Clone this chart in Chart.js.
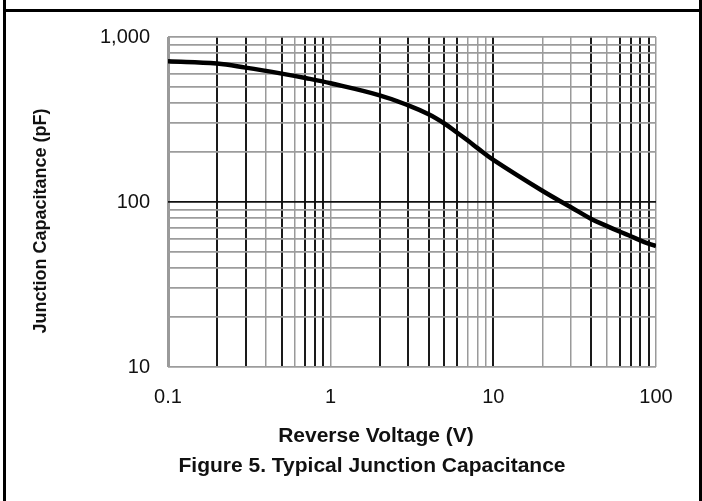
<!DOCTYPE html>
<html>
<head>
<meta charset="utf-8">
<title>Typical Junction Capacitance</title>
<script src="https://cdn.jsdelivr.net/npm/chart.js@4.4.1/dist/chart.umd.min.js"></script>
<style>
  html, body { margin: 0; padding: 0; background: #fff; overflow: hidden; }
  #wrap { position: relative; width: 702px; height: 501px; }
  #capChart { position: absolute; left: 0; top: 0; }
  /* scanned datasheet cell border */
  .frame-sides { position: absolute; left: 3px; top: 0; width: 693px; height: 501px;
                 border-left: 3px solid #000; border-right: 3px solid #000; pointer-events: none; }
  .frame-top   { position: absolute; left: 3px; top: 9px; width: 699px; height: 3px; background: #000; }
</style>
</head>
<body>
<div id="wrap">
  <canvas id="capChart" width="702" height="501"></canvas>
  <div class="frame-sides"></div>
  <div class="frame-top"></div>
</div>
<script>
/* ---------- data ---------- */
const voltage     = [0.1, 0.2, 0.3, 0.5, 0.7, 1, 2, 3, 4, 5, 6, 7, 8, 10, 20, 30, 40, 50, 60, 70, 80, 90, 100];
const capacitance = [712, 690, 652, 600, 564, 524, 443, 385, 340, 299, 263, 235, 212, 180, 117, 93, 79, 71.4, 66, 62, 58.6, 56, 54];

const xGridValues  = [0.1, 0.2, 0.3, 0.4, 0.5, 0.6, 0.7, 0.8, 0.9,
                      1, 2, 3, 4, 5, 6, 7, 8, 9,
                      10, 20, 30, 40, 50, 60, 70, 80, 90, 100];
const yGridValues  = [10, 20, 30, 40, 50, 60, 70, 80, 90,
                      100, 200, 300, 400, 500, 600, 700, 800, 900, 1000];
const xTickValues  = [0.1, 1, 10, 100];
const xTickLabels  = ['0.1', '1', '10', '100'];
const yTickValues  = [10, 100, 1000];
const yTickLabels  = ['10', '100', '1,000'];

const xTitle  = 'Reverse Voltage (V)';
const yTitle  = 'Junction Capacitance (pF)';
const caption = 'Figure 5. Typical Junction Capacitance';

/* ---------- styles ---------- */
// the scan prints some vertical rules dark and some light
const darkXLines = [0.2, 0.3, 0.5, 0.7, 0.8, 0.9, 2, 3, 4, 5, 6, 10, 40, 60, 70, 80, 90];
const darkYLines = [100];
const FONT = '"Liberation Sans", Arial, sans-serif';

function xGridColor(ctx) {
  if (!ctx.tick) return '#999';
  return darkXLines.includes(ctx.tick.value) ? '#1a1a1a' : '#9a9a9a';
}
function xGridWidth(ctx) {
  if (!ctx.tick) return 1.5;
  if (ctx.tick.value === 0.1) return 3;
  return darkXLines.includes(ctx.tick.value) ? 2 : 1.5;
}
function yGridColor(ctx) {
  if (!ctx.tick) return '#9c9c9c';
  return darkYLines.includes(ctx.tick.value) ? '#111' : '#9c9c9c';
}

/* axis titles + figure caption, placed like the datasheet */
const titlesPlugin = {
  id: 'titles',
  afterDraw(chart) {
    const ctx = chart.ctx;
    ctx.save();
    ctx.fillStyle = '#111';
    ctx.textAlign = 'center';
    ctx.textBaseline = 'middle';
    ctx.font = 'bold 21px ' + FONT;
    ctx.fillText(xTitle, 376, 436);
    ctx.fillText(caption, 372, 466);
    ctx.translate(41, 221);
    ctx.rotate(-Math.PI / 2);
    ctx.font = 'bold 18px ' + FONT;
    ctx.fillText(yTitle, 0, 0);
    ctx.restore();
  }
};

function buildChart() {
  const ctx = document.getElementById('capChart').getContext('2d');

  new Chart(ctx, {
    type: 'line',
    data: {
      datasets: [{
        label: 'Junction Capacitance',
        data: voltage.map((v, i) => ({ x: v, y: capacitance[i] })),
        borderColor: '#000',
        borderWidth: 4.5,
        pointRadius: 0,
        fill: false,
        tension: 0.4
      }]
    },
    options: {
      responsive: false,
      animation: false,
      layout: { padding: { top: 37, right: 46, left: 0, bottom: 0 } },
      plugins: {
        legend: { display: false },
        tooltip: { enabled: false }
      },
      scales: {
        x: {
          type: 'logarithmic',
          min: 0.1, max: 100,
          afterBuildTicks: s => { s.ticks = xGridValues.map(v => ({ value: v })); },
          afterFit: s => { s.height = 134; },
          border: { display: false },
          grid: { color: xGridColor, lineWidth: xGridWidth, drawTicks: false },
          ticks: {
            autoSkip: false,
            maxRotation: 0,
            padding: 18,
            color: '#111',
            font: { size: 20, family: FONT },
            callback: v => {
              const i = xTickValues.indexOf(v);
              return i >= 0 ? xTickLabels[i] : '';
            }
          }
        },
        y: {
          type: 'logarithmic',
          min: 10, max: 1000,
          afterBuildTicks: s => { s.ticks = yGridValues.map(v => ({ value: v })); },
          afterFit: s => { s.width = 168; },
          border: { display: false },
          grid: { color: yGridColor, lineWidth: 1.8, drawTicks: false },
          ticks: {
            autoSkip: false,
            padding: 18,
            color: '#111',
            font: { size: 20, family: FONT },
            callback: v => {
              const i = yTickValues.indexOf(v);
              return i >= 0 ? yTickLabels[i] : '';
            }
          }
        }
      }
    },
    plugins: [titlesPlugin]
  });
}

window.addEventListener('load', buildChart);
</script>
</body>
</html>
